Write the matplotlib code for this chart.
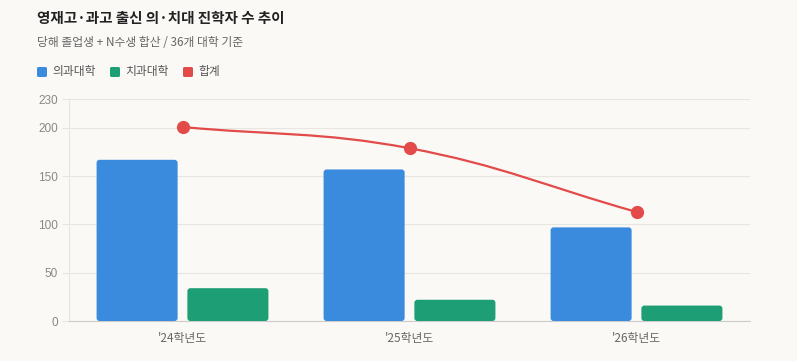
import matplotlib
matplotlib.use("Agg")
import matplotlib.pyplot as plt
from matplotlib.patches import FancyBboxPatch
from matplotlib.path import Path
from matplotlib.patches import PathPatch
import numpy as np

plt.rcParams['font.family'] = ['Noto Sans CJK KR', 'DejaVu Sans']

years = ["'24학년도", "'25학년도", "'26학년도"]
medical = [167, 157, 97]
dental = [34, 22, 16]
total = [201, 179, 113]
yticks = [0, 50, 100, 150, 200, 230]

BG = '#faf9f6'
BLUE = '#3a8ade'
GREEN = '#1e9e75'
RED = '#e24b4a'
GRID = '#e8e6e1'
TICK = '#888888'

fig = plt.figure(figsize=(7.97, 3.61), dpi=100, facecolor=BG)
ax = fig.add_axes([69/797, 40/361, 681/797, 222/361], facecolor=BG)

x = np.arange(len(years))
w = 0.357
off = 0.2

ax.set_xlim(-0.5, 2.5)
ax.set_ylim(0, 230)

# rounded bars: rounding in x units, aspect converts to y units
px_x = 681 / 3.0
px_y = 222 / 230.0
r = 3 / px_x
aspect = (3 / px_y) / r
for xs, vals, col in [(x - off, medical, BLUE), (x + off, dental, GREEN)]:
    for xi, v in zip(xs, vals):
        p = FancyBboxPatch((xi - w / 2, 0), w, v,
                           boxstyle=f"round,pad=0,rounding_size={r}",
                           mutation_aspect=aspect, fc=col, ec='none', zorder=3)
        ax.add_patch(p)

# smooth line (chart.js-like tension) as bezier path
pts = np.column_stack([x, total]).astype(float)
sc = np.array([px_x, px_y])
t = 0.4
cps = []
for i in range(len(pts)):
    prev = pts[max(i - 1, 0)]
    cur = pts[i]
    nxt = pts[min(i + 1, len(pts) - 1)]
    d01 = np.linalg.norm((cur - prev) * sc)
    d12 = np.linalg.norm((nxt - cur) * sc)
    s01 = d01 / (d01 + d12) if d01 + d12 else 0
    s12 = d12 / (d01 + d12) if d01 + d12 else 0
    cp_prev = cur - t * s01 * (nxt - prev)
    cp_next = cur + t * s12 * (nxt - prev)
    cps.append((cp_prev, cp_next))
verts = [pts[0]]
codes = [Path.MOVETO]
for i in range(len(pts) - 1):
    verts += [cps[i][1], cps[i + 1][0], pts[i + 1]]
    codes += [Path.CURVE4] * 3
ax.add_patch(PathPatch(Path(verts, codes), fc='none', ec=RED, lw=1.6, zorder=4))
ax.plot(x, total, 'o', color=RED, ms=8.5, zorder=5)

ax.set_xticks(x)
ax.set_xticklabels(years, fontsize=8.5, color='#666666')
ax.set_yticks(yticks)
ax.set_yticklabels([str(v) for v in yticks], fontsize=8.5, color=TICK,
                   family=['Liberation Sans', 'DejaVu Sans'])
ax.tick_params(axis='x', length=0, pad=8)
ax.tick_params(axis='y', length=5, color=GRID, pad=3)
ax.grid(axis='y', color=GRID, lw=0.8, zorder=0)
for s in ['top', 'right']:
    ax.spines[s].set_visible(False)
ax.spines['left'].set_color(GRID)
ax.spines['bottom'].set_color('#cccccc')

fig.text(37/797, 1 - 18/361, '영재고·과고 출신 의·치대 진학자 수 추이', fontsize=10.5,
         fontweight='bold', color='#222222', va='center')
fig.text(37/797, 1 - 42/361, '당해 졸업생 + N수생 합산 / 36개 대학 기준', fontsize=8.5,
         color='#666666', va='center')

legend = [('의과대학', BLUE, 37, 52), ('치과대학', GREEN, 110, 125), ('합계', RED, 183, 198)]
for lab, col, sx, tx in legend:
    sq = FancyBboxPatch((sx/797, 1 - 77/361), 10/797, 10/361,
                        boxstyle="round,pad=0,rounding_size=0.002",
                        transform=fig.transFigure, fc=col, ec='none',
                        mutation_aspect=797/361)
    fig.patches.append(sq)
    fig.text(tx/797, 1 - 72/361, lab, fontsize=8.5, color='#555555', va='center')

fig.savefig('out.png', dpi=100, facecolor=BG)
